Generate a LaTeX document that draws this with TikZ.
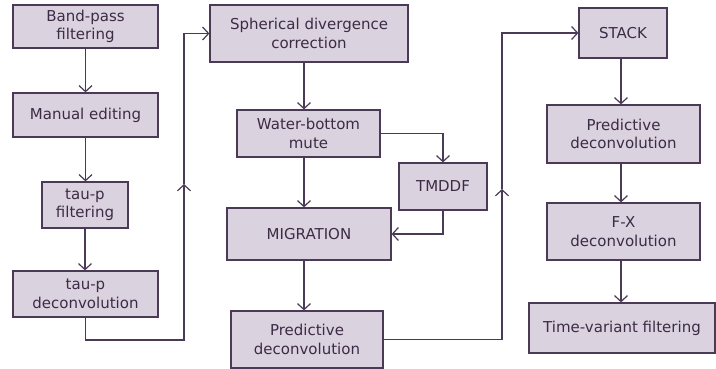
\documentclass[tikz,border=0pt]{standalone}
\usepackage{fontspec}
\setmainfont{DejaVu Sans}
\usetikzlibrary{arrows.meta}
\definecolor{boxfill}{HTML}{DAD2DE}
\definecolor{boxline}{HTML}{4B3A55}
\definecolor{txt}{HTML}{3C2B45}
\begin{document}
\begin{tikzpicture}[x=1pt,y=-1pt,
  box/.style={draw=boxline, fill=boxfill, line width=1.2pt, inner sep=0pt,
    align=center, text=txt, font=\fontsize{15}{18.5}\selectfont},
  arr/.style={draw=boxline, line width=1.2pt, -{Straight Barb[length=6pt,width=13pt,line width=1.2pt]}},
  ln/.style={draw=boxline, line width=1.2pt}]
\useasboundingbox (0,0) rectangle (716,369);
% column 1
\node[box, minimum width=145pt, minimum height=43pt] (bp) at (85.5,26.5) {Band-pass\\filtering};
\node[box, minimum width=145pt, minimum height=44pt] (me) at (85.5,115) {Manual editing};
\node[box, minimum width=86pt, minimum height=46pt] (tf) at (85,205) {tau-p\\filtering};
\node[box, minimum width=145pt, minimum height=46pt] (td) at (85.5,294) {tau-p\\deconvolution};
% column 2
\node[box, minimum width=198pt, minimum height=57pt] (sd) at (309,33.5) {Spherical divergence\\correction};
\node[box, minimum width=143pt, minimum height=47pt] (wb) at (308.5,133.5) {Water-bottom\\mute};
\node[box, minimum width=88pt, minimum height=47pt] (tm) at (443,186.5) {TMDDF};
\node[box, minimum width=164pt, minimum height=52pt] (mg) at (309,234) {MIGRATION};
\node[box, minimum width=152pt, minimum height=57pt] (pd) at (307,339.5) {Predictive\\deconvolution};
% column 3
\node[box, minimum width=88pt, minimum height=50pt] (st) at (623,33) {STACK};
\node[box, minimum width=153pt, minimum height=58pt] (pd2) at (623.5,134) {Predictive\\deconvolution};
\node[box, minimum width=153pt, minimum height=57pt] (fx) at (623.5,231.5) {F-X\\deconvolution};
\node[box, minimum width=186pt, minimum height=50pt] (tv) at (622,328) {Time-variant filtering};
% helper coordinates
\coordinate (c1) at (184,340);
\coordinate (m1) at (184,184);
\coordinate (m2) at (502,189);
% connectors column 1
\draw[arr] (bp.south) -- (bp.south |- me.north);
\draw[arr] (me.south) -- (me.south |- tf.north);
\draw[arr] (tf.south) -- (tf.south |- td.north);
\draw[arr] (td.south) |- (c1) -- (m1);
\draw[arr] (m1) |- (sd.west);
% column 2
\draw[arr] ([xshift=-5pt]sd.south) -- ([xshift=-5pt]sd.south |- wb.north);
\draw[arr] (wb.east) -| (tm.north);
\draw[arr] ([xshift=-5pt]sd.south |- wb.south) -- ([xshift=-5pt]sd.south |- mg.north);
\draw[arr] (tm.south) |- (mg.east);
\draw[arr] ([xshift=-5pt]sd.south |- mg.south) -- ([xshift=-5pt]sd.south |- pd.north);
\draw[arr] (pd.east) -| (m2);
\draw[arr] (m2) |- (st.west);
% column 3
\draw[arr] ([xshift=-2pt]st.south) -- ([xshift=-2pt]st.south |- pd2.north);
\draw[arr] ([xshift=-2pt]st.south |- pd2.south) -- ([xshift=-2pt]st.south |- fx.north);
\draw[arr] ([xshift=-2pt]st.south |- fx.south) -- ([xshift=-2pt]st.south |- tv.north);
\end{tikzpicture}
\end{document}
